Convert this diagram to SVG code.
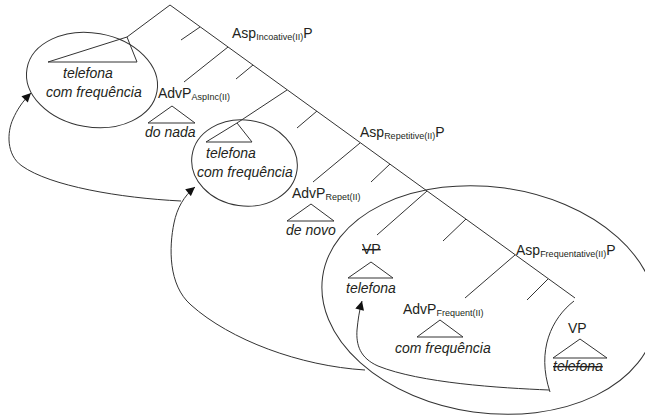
<svg xmlns="http://www.w3.org/2000/svg" width="645" height="418" viewBox="0 0 645 418">
<defs>
<style>
.ln{fill:none;stroke:#333;stroke-width:1}
.tri{fill:none;stroke:#333;stroke-width:1;stroke-linejoin:miter}
.el{fill:none;stroke:#333;stroke-width:1}
text{font-family:"Liberation Sans",Arial,sans-serif;fill:#231f20}
.lb{font-size:14px}
.sb{font-size:9px}
.it{font-size:14px;font-style:italic}
.st{text-decoration:line-through}
</style>
<marker id="ah" viewBox="0 0 10 10" refX="10" refY="5" markerWidth="10" markerHeight="9" markerUnits="userSpaceOnUse" orient="auto">
<path d="M0,0 L10,5 L0,10 z" fill="#111"/>
</marker>
</defs>
<rect width="645" height="418" fill="#fff"/>

<g id="connectors">
<!-- spine -->
<path class="ln" d="M170,5 L575,298"/>
<path class="ln" d="M170,5 L127,37"/>
<!-- branches -->
<path class="ln" d="M200,27 L181,40"/>
<path class="ln" d="M228,47 L184,82"/>
<path class="ln" d="M253,65 L236,79"/>
<path class="ln" d="M287,90 L237,123"/>
<path class="ln" d="M317,111 L297,128"/>
<path class="ln" d="M360,143 L313,182"/>
<path class="ln" d="M390,164 L371,182"/>
<path class="ln" d="M427,191 L377,235"/>
<path class="ln" d="M466,219 L443,241"/>
<path class="ln" d="M515,255 L465,298"/>
<path class="ln" d="M548,279 L527,300"/>
<!-- movement arrows -->
<path class="ln" marker-end="url(#ah)" d="M549,390 C500,388 420,383 378,366 C360,358 356,345 357,330 C358,320 359,312 362,301"/>
<path class="ln" marker-end="url(#ah)" d="M181,201 C120,198 50,186 22,166 C6,155 7,132 13,119 C17,110 22,102 31,93"/>
<path class="ln" marker-end="url(#ah)" d="M365,370 C300,366 230,340 191,305 C168,285 169,247 174,223 C177,208 184,196 195,187"/>
</g>

<g id="node-ellipse1">
<ellipse class="el" cx="92" cy="80" rx="66" ry="47" transform="rotate(10 92 80)"/>
<path class="tri" d="M127,37 L48,62 L137,62 Z"/>
<text class="it" x="63" y="78">telefona</text>
<text class="it" x="46" y="97">com frequência</text>
</g>

<g id="node-asp-incoative">
<text class="lb" x="232" y="38">Asp<tspan class="sb" dy="2">Incoative(II)</tspan><tspan dy="-2">P</tspan></text>
</g>

<g id="node-advp-aspinc">
<text class="lb" x="158" y="98">AdvP<tspan class="sb" dy="2">AspInc(II)</tspan></text>
<path class="tri" d="M172,106 L148,123 L195,123 Z"/>
<text class="it" x="145" y="137">do nada</text>
</g>

<g id="node-ellipse2">
<ellipse class="el" cx="244.5" cy="163" rx="53" ry="43" transform="rotate(8 244.5 163)"/>
<path class="tri" d="M237,123 L206,142 L252,142 Z"/>
<text class="it" x="206" y="158">telefona</text>
<text class="it" x="197" y="177">com frequência</text>
</g>

<g id="node-asp-repetitive">
<text class="lb" x="360" y="137">Asp<tspan class="sb" dy="2">Repetitive(II)</tspan><tspan dy="-2">P</tspan></text>
</g>

<g id="node-advp-repet">
<text class="lb" x="292" y="198">AdvP<tspan class="sb" dy="2">Repet(II)</tspan></text>
<path class="tri" d="M311,204 L287,221 L334,221 Z"/>
<text class="it" x="286" y="235">de novo</text>
</g>

<g id="node-ellipse3">
<ellipse class="el" cx="489" cy="300" rx="168" ry="113" transform="rotate(8 489 300)"/>
<path class="ln" d="M574,301 C552,318 536,350 550,392"/>
</g>

<g id="node-vp-middle">
<text class="lb st" x="362" y="254">VP</text>
<path class="tri" d="M371,262 L348,278 L393,278 Z"/>
<text class="it" x="346" y="293">telefona</text>
</g>

<g id="node-asp-frequentative">
<text class="lb" x="516" y="255">Asp<tspan class="sb" dy="2">Frequentative(II)</tspan><tspan dy="-2">P</tspan></text>
</g>

<g id="node-advp-frequent">
<text class="lb" x="403" y="314">AdvP<tspan class="sb" dy="2">Frequent(II)</tspan></text>
<path class="tri" d="M440,320 L417,337 L463,337 Z"/>
<text class="it" x="395" y="353">com frequência</text>
</g>

<g id="node-vp-right">
<text class="lb" x="568" y="333">VP</text>
<path class="tri" d="M580,339 L553,358 L607,358 Z"/>
<text class="it st" x="553" y="371">telefona</text>
</g>
</svg>
